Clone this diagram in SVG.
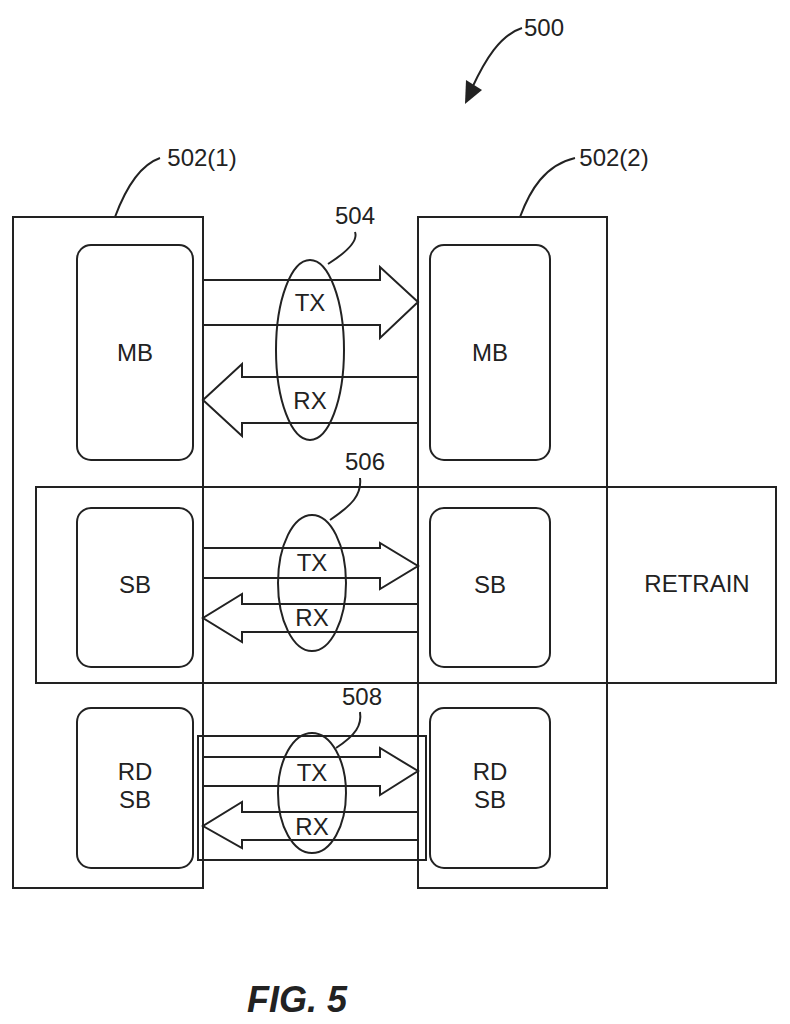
<svg xmlns="http://www.w3.org/2000/svg" width="790" height="1024" viewBox="0 0 790 1024">
<style>
.l{fill:none;stroke:#222;stroke-width:2}
.a{fill:none;stroke:#222;stroke-width:2;stroke-linejoin:miter}
.t{font-family:"Liberation Sans",Arial,sans-serif;font-size:24px;fill:#222;text-anchor:middle}
</style>
<rect width="790" height="1024" fill="#fff"/>
<g id="retrain"><rect class="l" x="36" y="487" width="740" height="196"/><text class="t" x="697" y="592">RETRAIN</text></g>
<g id="dev1"><rect class="l" x="13" y="217" width="190" height="671"/></g>
<g id="dev2"><rect class="l" x="418" y="217" width="189" height="671"/></g>
<g id="mb1"><rect class="l" x="77" y="245" width="116" height="215" rx="14"/><text class="t" x="135" y="361">MB</text></g>
<g id="sb1"><rect class="l" x="77" y="508" width="116" height="159" rx="14"/><text class="t" x="135" y="593">SB</text></g>
<g id="rdsb1"><rect class="l" x="77" y="708" width="116" height="160" rx="14"/><text class="t" x="135" y="780">RD</text><text class="t" x="135" y="808">SB</text></g>
<g id="mb2"><rect class="l" x="430" y="245" width="120" height="215" rx="14"/><text class="t" x="490" y="361">MB</text></g>
<g id="sb2"><rect class="l" x="430" y="508" width="120" height="159" rx="14"/><text class="t" x="490" y="593">SB</text></g>
<g id="rdsb2"><rect class="l" x="430" y="708" width="120" height="160" rx="14"/><text class="t" x="490" y="780">RD</text><text class="t" x="490" y="808">SB</text></g>
<g id="connectors">
<path class="a" d="M203 280H380V267L418 302L380 338V325H203"/>
<path class="a" d="M418 377H242V364L203 400L242 436V423H418"/>
<ellipse class="l" cx="310" cy="350" rx="34" ry="90"/>
<text class="t" x="310" y="311">TX</text><text class="t" x="310" y="409">RX</text>
<path class="l" d="M328 264C350 250 358 240 355 232"/>
<text class="t" x="355" y="224">504</text>
<path class="a" d="M203 548H380V543L418 566L380 589V578H203"/>
<path class="a" d="M418 604H242V594L203 618L242 642V632H418"/>
<ellipse class="l" cx="312" cy="583" rx="34" ry="68"/>
<text class="t" x="312" y="571">TX</text><text class="t" x="312" y="626">RX</text>
<path class="l" d="M330 520C352 505 362 495 360 478"/>
<text class="t" x="365" y="470">506</text>
<rect class="l" x="198" y="736" width="228" height="124"/>
<path class="a" d="M203 757H380V748L418 771L380 795V786H203"/>
<path class="a" d="M418 812H242V802L203 826L242 848V840H418"/>
<ellipse class="l" cx="312" cy="793" rx="34" ry="60"/>
<text class="t" x="312" y="781">TX</text><text class="t" x="312" y="835">RX</text>
<path class="l" d="M336 748C356 735 362 725 360 712"/>
<text class="t" x="362" y="705">508</text>
<path class="l" d="M115 217C125 190 140 165 160 158"/>
<text class="t" x="202" y="166">502(1)</text>
<path class="l" d="M520 217C530 190 545 165 575 158"/>
<text class="t" x="614" y="166">502(2)</text>
<path class="l" d="M522 28C500 35 485 60 472 88"/>
<path d="M465 104L466 80L482 90Z" fill="#222"/>
<text class="t" x="544" y="36">500</text>
</g>
<text x="297" y="1012" style="font-family:'Liberation Sans',Arial,sans-serif;font-size:36px;font-weight:bold;font-style:italic;fill:#222" text-anchor="middle">FIG. 5</text>
</svg>
